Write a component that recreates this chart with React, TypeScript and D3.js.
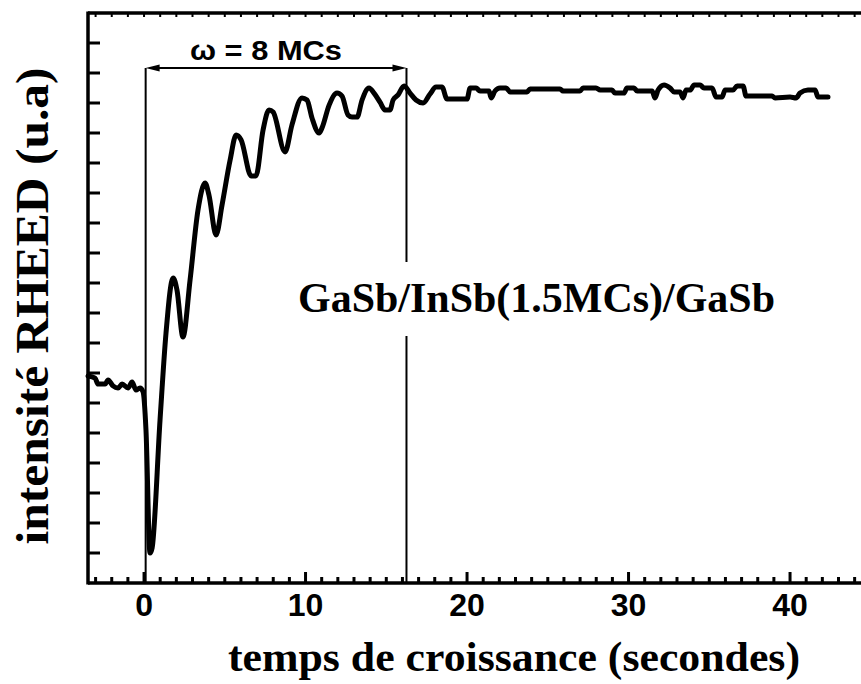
import React from "react";
import * as d3 from "d3";

// time (s) and RHEED intensity (a.u.)
const times: number[] = [
  -3.47, -3.03, -2.85, -2.41, -2.23, -1.92, -1.61, -1.36, -0.99, -0.74, -0.5, -0.25, -0.06,
  0.12, 0.37, 0.5, 0.99, 1.36, 1.8, 2.04, 2.41, 2.85, 3.34, 3.78, 4.02, 4.46, 4.83, 5.33, 5.7,
  6.01, 6.63, 6.93, 7.37, 7.74, 7.99, 8.73, 9.16, 9.78, 10.09, 10.4, 10.84, 11.02, 11.46, 11.95,
  12.26, 12.63, 12.88, 13.19, 13.5, 13.93, 14.24, 14.61, 14.92, 15.23, 15.42, 15.73, 16.1, 16.47,
  16.84, 17.28, 17.71, 18.08, 18.45, 18.76, 20.0, 20.19, 20.56, 20.8, 21.36, 21.49, 21.73, 22.04,
  22.42, 22.66, 23.72, 23.9, 25.76, 25.94, 27.0, 27.18, 27.99, 28.24, 28.98, 29.16, 29.72, 29.9,
  30.34, 30.53, 31.46, 31.64, 31.83, 32.2, 32.57, 32.82, 33.19, 33.38, 33.56, 33.81, 34.06, 34.43,
  34.67, 35.17, 35.42, 35.79, 35.98, 36.47, 36.72, 37.09, 37.28, 38.89, 39.07, 40.0, 40.37, 40.62,
  41.11, 41.55, 41.73, 42.35,
];
const intensity: number[] = [
  6.9, 6.83, 6.63, 6.63, 6.77, 6.57, 6.5, 6.63, 6.5, 6.7, 6.43, 6.5, 6.37,
  5.1, 1.0, 1.17, 5.43, 8.33, 10.17, 9.77, 8.2, 10.1, 12.43, 13.33, 12.93, 11.6, 12.6, 14.1, 14.93,
  14.77, 13.57, 13.57, 15.1, 15.77, 15.7, 14.37, 15.27, 16.17, 16.1, 15.5, 15.0, 15.17, 15.93, 16.33,
  16.23, 15.6, 15.53, 15.53, 16.1, 16.5, 16.33, 16.03, 15.77, 15.77, 16.1, 16.27, 16.57, 16.33,
  16.1, 16.0, 16.3, 16.53, 16.53, 16.13, 16.13, 16.5, 16.5, 16.4, 16.4, 16.17, 16.4, 16.5,
  16.5, 16.37, 16.37, 16.47, 16.47, 16.4, 16.4, 16.5, 16.5, 16.43, 16.43, 16.33, 16.33, 16.5,
  16.5, 16.4, 16.4, 16.17, 16.43, 16.6, 16.5, 16.37, 16.37, 16.17, 16.43, 16.43, 16.6, 16.6,
  16.5, 16.5, 16.2, 16.2, 16.43, 16.43, 16.57, 16.57, 16.23, 16.23, 16.17, 16.2, 16.17, 16.33,
  16.43, 16.43, 16.2, 16.2,
];

const xMajorTicks: number[] = [0, 10, 20, 30, 40];
const xTickLabels: string[] = ["0", "10", "20", "30", "40"];
const markerTimes: number[] = [0.1, 16.25]; // start / end of the 8 MC window
const annotation = "\u03c9 = 8 MCs";
const sampleLabel = "GaSb/InSb(1.5MCs)/GaSb";
const xTitle = "temps de croissance (secondes)";
const yTitle = "intensit\u00e9 RHEED (u.a)";

const W = 861;
const H = 684;
const L = 88;
const T = 13;
const B = 583;

export default function App() {
  const x = d3.scaleLinear().domain([-3.47, 45]).range([L, L + 48.47 * 16.15]);
  const y = d3.scaleLinear().domain([0, 19]).range([B, T]);
  const pts: [number, number][] = times.map((t, i) => [t, intensity[i]]);
  const line = d3
    .line<[number, number]>()
    .x((d) => x(d[0]))
    .y((d) => y(d[1]))
    .curve(d3.curveMonotoneX);

  const minorX = d3.range(-3, 46, 1).filter((v) => v % 10 !== 0);
  const yTicks = d3.range(1, 19, 1);
  const arrowY = 68;
  const x0 = x(markerTimes[0]);
  const x1 = x(markerTimes[1]);

  return (
    <svg
      width={W}
      height={H}
      style={{ position: "absolute", left: 0, top: 0, background: "#fff", overflow: "hidden" }}
    >
      <rect x={0} y={0} width={W} height={H} fill="#fff" />
      {/* data */}
      <path
        d={line(pts) || ""}
        fill="none"
        stroke="#000"
        strokeWidth={5}
        strokeLinejoin="round"
        strokeLinecap="round"
      />
      {/* marker lines */}
      {markerTimes.map((t, i) => (
        <line key={i} x1={x(t)} x2={x(t)} y1={arrowY} y2={B} stroke="#000" strokeWidth={2} />
      ))}
      {/* double arrow */}
      <line x1={x0 + 4} x2={x1 - 4} y1={arrowY} y2={arrowY} stroke="#000" strokeWidth={2} />
      <path d={`M${x0},${arrowY} L${x0 + 14},${arrowY - 3.5} L${x0 + 14},${arrowY + 3.5} Z`} fill="#000" />
      <path d={`M${x1},${arrowY} L${x1 - 14},${arrowY - 3.5} L${x1 - 14},${arrowY + 3.5} Z`} fill="#000" />
      <text
        x={266}
        y={60}
        textAnchor="middle"
        fontFamily="'Liberation Sans', Arial, sans-serif"
        fontWeight="bold"
        fontSize={27}
        textLength={152}
        lengthAdjust="spacingAndGlyphs"
      >
        {annotation}
      </text>
      {/* sample label with white background */}
      <rect x={292} y={262} width={490} height={74} fill="#fff" />
      <text
        x={298}
        y={312}
        fontFamily="'Liberation Serif', 'Times New Roman', serif"
        fontWeight="bold"
        fontSize={42}
        textLength={477}
        lengthAdjust="spacingAndGlyphs"
      >
        {sampleLabel}
      </text>
      {/* axes frame */}
      <line x1={L} x2={L} y1={T - 1.5} y2={B + 1.5} stroke="#000" strokeWidth={3.5} />
      <line x1={L} x2={W} y1={B} y2={B} stroke="#000" strokeWidth={3.5} />
      <line x1={L} x2={W} y1={T} y2={T} stroke="#000" strokeWidth={3.5} />
      {/* bottom ticks */}
      {minorX.map((v) => (
        <line key={"m" + v} x1={x(v)} x2={x(v)} y1={B} y2={B - 6} stroke="#000" strokeWidth={3} />
      ))}
      {xMajorTicks.map((v) => (
        <line key={"M" + v} x1={x(v)} x2={x(v)} y1={B} y2={B - 11} stroke="#000" strokeWidth={3} />
      ))}
      {/* top ticks */}
      {d3.range(-3, 46, 1).map((v) => (
        <line key={"t" + v} x1={x(v)} x2={x(v)} y1={T} y2={T + 4} stroke="#000" strokeWidth={2} />
      ))}
      {/* left ticks */}
      {yTicks.map((v) => (
        <line key={"y" + v} x1={L} x2={L + 12} y1={y(v)} y2={y(v)} stroke="#000" strokeWidth={3} />
      ))}
      {/* tick labels */}
      {xMajorTicks.map((v, i) => (
        <text
          key={"l" + v}
          x={x(v)}
          y={616}
          textAnchor="middle"
          fontFamily="'Liberation Sans', Arial, sans-serif"
          fontWeight="bold"
          fontSize={32}
        >
          {xTickLabels[i]}
        </text>
      ))}
      {/* axis titles */}
      <text
        x={514}
        y={671}
        textAnchor="middle"
        fontFamily="'Liberation Serif', 'Times New Roman', serif"
        fontWeight="bold"
        fontSize={43}
        textLength={572}
        lengthAdjust="spacingAndGlyphs"
      >
        {xTitle}
      </text>
      <text
        transform={`translate(48, 306) rotate(-90)`}
        textAnchor="middle"
        fontFamily="'Liberation Serif', 'Times New Roman', serif"
        fontWeight="bold"
        fontSize={46}
        textLength={477}
        lengthAdjust="spacingAndGlyphs"
      >
        {yTitle}
      </text>
    </svg>
  );
}
